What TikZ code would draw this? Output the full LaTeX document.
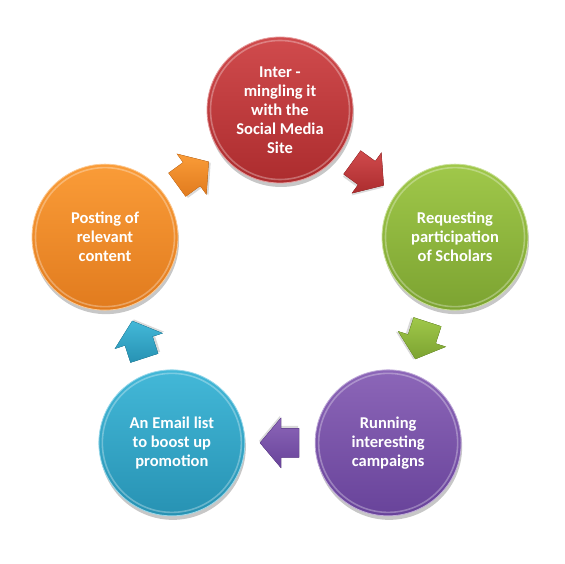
\documentclass[tikz,border=0pt]{standalone}
\usepackage{fontspec}
\setmainfont{Carlito}
\usetikzlibrary{calc,shadows}
\definecolor{redT}{HTML}{D04B4D}
\definecolor{redB}{HTML}{AC2C2E}
\definecolor{greenT}{HTML}{A0C84A}
\definecolor{greenB}{HTML}{7CA331}
\definecolor{purpleT}{HTML}{8C66B8}
\definecolor{purpleB}{HTML}{68439A}
\definecolor{blueT}{HTML}{43B8D8}
\definecolor{blueB}{HTML}{2792B3}
\definecolor{orangeT}{HTML}{FA9C38}
\definecolor{orangeB}{HTML}{E17B1E}
\begin{document}
\begin{tikzpicture}[x=1pt,y=1pt,
  ball/.style 2 args={circle, minimum size=146pt, inner sep=0pt,
    top color=#1, bottom color=#2, draw=#1!55!white, line width=0.8pt,
    drop shadow={shadow xshift=1pt, shadow yshift=-4pt, opacity=0.22, fill=black},
    path picture={\draw[white, opacity=0.3, line width=1.6pt]
      (path picture bounding box.center) circle (69.5pt);},
    text=white, font=\bfseries\fontsize{16.5}{19}\selectfont, align=center},
  pics/blockarrow/.style 2 args={code={
    \fill[black, opacity=0.15] (-18,-17) -- (0,-17) -- (0,-27) -- (21,-2) -- (0,23) -- (0,13) -- (-18,13) -- cycle;
    \fill[top color=#1, bottom color=#2, draw=#2, line width=0.3pt]
      (-19,-14.5) -- (-1,-14.5) -- (-1,-25) -- (20,0) -- (-1,25) -- (-1,14.5) -- (-19,14.5) -- cycle;}}
]
\useasboundingbox (0,0) rectangle (564,564);
\coordinate (c) at (280,270);
\node[ball={redT}{redB}]       (red)    at ($(c)+(90:184)$)   {Inter -\\mingling it\\with the\\Social Media\\Site};
\node[ball={greenT}{greenB}]   (green)  at ($(c)+(18:184)$)   {Requesting\\participation\\of Scholars};
\node[ball={purpleT}{purpleB}] (purple) at ($(c)+(-54:184)$)  {Running\\interesting\\campaigns};
\node[ball={blueT}{blueB}]     (blue)   at ($(c)+(-126:184)$) {An Email list\\to boost up\\promotion};
\node[ball={orangeT}{orangeB}] (orange) at ($(c)+(162:184)$)  {Posting of\\relevant\\content};
\path ($(red)!0.5!(green)$)     pic[rotate=-36]  {blockarrow={redT}{redB}};
\path ($(green)!0.5!(purple)$)  pic[rotate=-108] {blockarrow={greenT}{greenB}};
\path ($(purple)!0.5!(blue)$)   pic[rotate=180]  {blockarrow={purpleT}{purpleB}};
\path ($(blue)!0.5!(orange)$)   pic[rotate=108]  {blockarrow={blueT}{blueB}};
\path ($(orange)!0.5!(red)$)    pic[rotate=36]   {blockarrow={orangeT}{orangeB}};
\end{tikzpicture}
\end{document}
